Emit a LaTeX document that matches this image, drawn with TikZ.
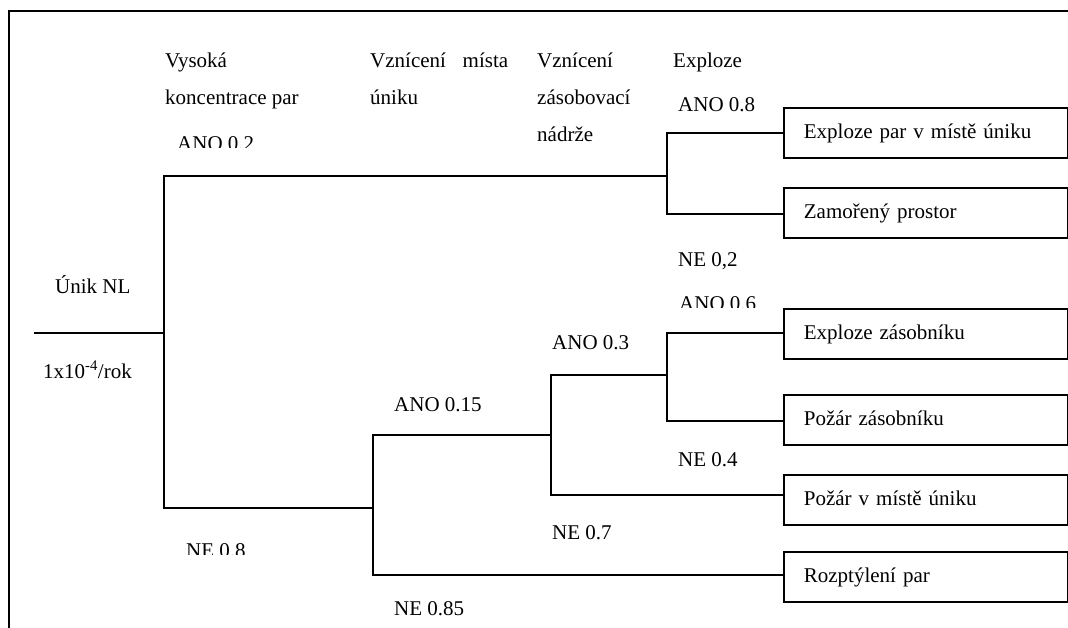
\documentclass[tikz,border=0pt]{standalone}
\usepackage{fontspec}
\setmainfont{Liberation Serif}
\begin{document}
\begin{tikzpicture}[x=1pt,y=-1pt,
  every node/.style={font=\fontsize{21}{25}\selectfont, inner sep=0pt},
  lbl/.style={anchor=base west},
  outcome/.style={draw, line width=1.7pt, anchor=west, minimum width=284pt,
    minimum height=50pt, inner xsep=20pt, text width=244pt, align=left,
    text height=15pt, text depth=4pt},
  branch/.style={line width=1.7pt, line join=miter},
  frame/.style={line width=2pt}]
\useasboundingbox (0,0) rectangle (1068,628);

% outer frame (top and left edges)
\coordinate (fl) at (9,628);
\coordinate (fc) at (9,11);
\coordinate (fr) at (1068,11);
\draw[frame] (fl) -- (fc) -- (fr);

% column headings
\node[lbl] (h1a) at (165,68) {Vysoká};
\node[lbl] (h1b) at (165,105) {koncentrace par};
\node[lbl] (h2a) at (370,68) {\makebox[138pt][l]{Vznícení\hfill místa}};
\node[lbl] (h2b) at (370,105) {úniku};
\node[lbl] (h3a) at (537,68) {Vznícení};
\node[lbl] (h3b) at (537,105) {zásobovací};
\node[lbl] (h3c) at (537,142) {nádrže};
\node[lbl] (h4a) at (673,68) {Exploze};

% initiating event
\node[lbl] (ev) at (55,294) {Únik NL};
\node[lbl] (fr1) at (43,378) {1x10\textsuperscript{-4}/rok};

% outcome boxes
\node[outcome] (b1) at (783,133) {Exploze par v místě úniku};
\node[outcome] (b2) at (783,213) {Zamořený prostor};
\node[outcome] (b3) at (783,334) {Exploze zásobníku};
\node[outcome] (b4) at (783,420) {Požár zásobníku};
\node[outcome] (b5) at (783,500) {Požár v místě úniku};
\node[outcome] (b6) at (783,577) {Rozptýlení par};

% branch points
\coordinate (start) at (34,333);
\coordinate (n1) at (164,333);
\coordinate (n1t) at (164,176);
\coordinate (n1b) at (164,508);
\coordinate (n2) at (667,176);
\coordinate (e1) at (667,133);
\coordinate (e2) at (667,214);
\coordinate (n3) at (373,508);
\coordinate (n3t) at (373,435);
\coordinate (n3b) at (373,575);
\coordinate (n4) at (551,435);
\coordinate (n4t) at (551,375);
\coordinate (n4b) at (551,495);
\coordinate (n5) at (667,375);
\coordinate (n5t) at (667,333);
\coordinate (n5b) at (667,421);

% event tree
\draw[branch] (start) -- (n1);
\draw[branch] (n2) -- (n1t) -- (n1b) -- (n3);
\draw[branch] (e1 -| b1.west) -- (e1) -- (e2) -- (e2 -| b2.west);
\draw[branch] (n4) -- (n3t) -- (n3b) -- (n3b -| b6.west);
\draw[branch] (n5) -- (n4t) -- (n4b) -- (n4b -| b5.west);
\draw[branch] (n5t -| b3.west) -- (n5t) -- (n5b) -- (n5b -| b4.west);

% branch probabilities (some labels are cut off at their lower edge)
\begin{scope}
  \clip (170,120) rectangle (270,148);
  \node[lbl] (p1) at (177,151) {ANO 0.2};
\end{scope}
\begin{scope}
  \clip (180,530) rectangle (270,554);
  \node[lbl] (p2) at (186,557) {NE 0.8};
\end{scope}
\node[lbl] (p3) at (678,112) {ANO 0.8};
\node[lbl] (p4) at (678,267) {NE 0,2};
\begin{scope}
  \clip (670,285) rectangle (770,308);
  \node[lbl] (p5) at (679,311) {ANO 0.6};
\end{scope}
\node[lbl] (p6) at (678,466) {NE 0.4};
\node[lbl] (p7) at (552,349) {ANO 0.3};
\node[lbl] (p8) at (552,539) {NE 0.7};
\node[lbl] (p9) at (394,411) {ANO 0.15};
\node[lbl] (p10) at (394,615) {NE 0.85};
\end{tikzpicture}
\end{document}
